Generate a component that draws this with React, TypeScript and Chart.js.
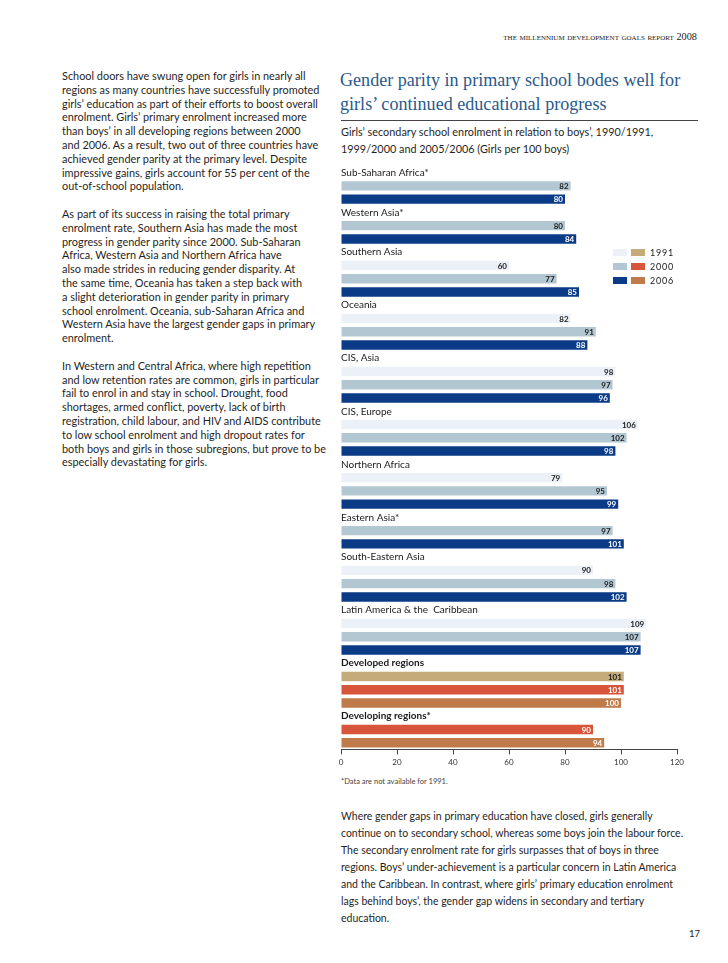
import React, { useEffect, useRef } from "react";
import { Chart, registerables } from "chart.js";

Chart.register(...registerables);

// ---------- Chart data ----------
const regions = [
  "Sub-Saharan Africa*",
  "Western Asia*",
  "Southern Asia",
  "Oceania",
  "CIS, Asia",
  "CIS, Europe",
  "Northern Africa",
  "Eastern Asia*",
  "South-Eastern Asia",
  "Latin America & the  Caribbean",
  "Developed regions",
  "Developing regions*",
];
const values1991: (number | null)[] = [null, null, 60, 82, 98, 106, 79, null, 90, 109, 101, null];
const values2000: (number | null)[] = [82, 80, 77, 91, 97, 102, 95, 97, 98, 107, 101, 90];
const values2006: (number | null)[] = [80, 84, 85, 88, 96, 98, 99, 101, 102, 107, 100, 94];
const seriesYears = ["1991", "2000", "2006"];
const summaryGroups = ["Developed regions", "Developing regions*"];
const xTicks = [0, 20, 40, 60, 80, 100, 120];

const regionColors = ["#ebf1f7", "#b3c7d3", "#0b3b86"];
const summaryColors = ["#c4ab79", "#d8553b", "#c07b4b"];
const regionTextColors = ["#1c1c1c", "#1c1c1c", "#ffffff"];
const summaryTextColors = ["#1c1c1c", "#ffffff", "#ffffff"];

// ---------- Text ----------
const leftLines = [
  "School doors have swung open for girls in nearly all",
  "regions as many countries have successfully promoted",
  "girls\u2019 education as part of their efforts to boost overall",
  "enrolment. Girls\u2019 primary enrolment increased more",
  "than boys\u2019 in all developing regions between 2000",
  "and 2006. As a result, two out of three countries have",
  "achieved gender parity at the primary level. Despite",
  "impressive gains, girls account for 55 per cent of the",
  "out-of-school population.",
  "",
  "As part of its success in raising the total primary",
  "enrolment rate, Southern Asia has made the most",
  "progress in gender parity since 2000. Sub-Saharan",
  "Africa, Western Asia and Northern Africa have",
  "also made strides in reducing gender disparity. At",
  "the same time, Oceania has taken a step back with",
  "a slight deterioration in gender parity in primary",
  "school enrolment. Oceania, sub-Saharan Africa and",
  "Western Asia have the largest gender gaps in primary",
  "enrolment.",
  "",
  "In Western and Central Africa, where high repetition",
  "and low retention rates are common, girls in particular",
  "fail to enrol in and stay in school. Drought, food",
  "shortages, armed conflict, poverty, lack of birth",
  "registration, child labour, and HIV and AIDS contribute",
  "to low school enrolment and high dropout rates for",
  "both boys and girls in those subregions, but prove to be",
  "especially devastating for girls.",
];
const bottomLines = [
  "Where gender gaps in primary education have closed, girls generally",
  "continue on to secondary school, whereas some boys join the labour force.",
  "The secondary enrolment rate for girls surpasses that of boys in three",
  "regions. Boys\u2019 under-achievement is a particular concern in Latin America",
  "and the Caribbean. In contrast, where girls\u2019 primary education enrolment",
  "lags behind boys\u2019, the gender gap widens in secondary and tertiary",
  "education.",
];
const titleLines = [
  "Gender parity in primary school bodes well for",
  "girls\u2019 continued educational progress",
];
const subtitleLines = [
  "Girls\u2019 secondary school enrolment in relation to boys\u2019, 1990/1991,",
  "1999/2000 and 2005/2006 (Girls per 100 boys)",
];

type Row =
  | { kind: "label"; region: number }
  | { kind: "bar"; region: number; series: number; value: number };

function buildRows(): Row[] {
  const rows: Row[] = [];
  const all = [values1991, values2000, values2006];
  regions.forEach((_, i) => {
    rows.push({ kind: "label", region: i });
    all.forEach((arr, s) => {
      const v = arr[i];
      if (v != null) rows.push({ kind: "bar", region: i, series: s, value: v });
    });
  });
  return rows;
}

const isSummary = (region: number) => summaryGroups.includes(regions[region]);

const SANS = "Lato, 'Open Sans', sans-serif";
const SERIF = "'Liberation Serif', 'DejaVu Serif', serif";

function BarChart() {
  const ref = useRef<HTMLCanvasElement | null>(null);
  useEffect(() => {
    if (!ref.current) return;
    const rows = buildRows();
    const datasets = seriesYears.map((year, s) => ({
      label: year,
      data: rows.map((r) => (r.kind === "bar" && r.series === s ? r.value : null)),
      backgroundColor: rows.map((r) => (isSummary(r.region) ? summaryColors[s] : regionColors[s])),
      borderWidth: 0,
    }));

    const labelPlugin = {
      id: "groupLabels",
      afterDatasetsDraw(chart: any) {
        const ctx = chart.ctx as CanvasRenderingContext2D;
        const yScale = chart.scales.y;
        const area = chart.chartArea;
        ctx.save();
        ctx.textBaseline = "middle";
        rows.forEach((r, i) => {
          if (r.kind !== "label") return;
          const y = yScale.getPixelForValue(i);
          ctx.font = (isSummary(r.region) ? "bold " : "") + "10px " + SANS;
          ctx.fillStyle = "#1a1a1a";
          ctx.textAlign = "left";
          ctx.fillText(regions[r.region], area.left, y);
        });
        chart.data.datasets.forEach((ds: any, s: number) => {
          const meta = chart.getDatasetMeta(s);
          meta.data.forEach((el: any, i: number) => {
            const v = ds.data[i];
            if (v == null) return;
            const r = rows[i];
            const { x, y } = el.getProps(["x", "y"], true);
            ctx.font = "bold 8px " + SANS;
            ctx.textAlign = "right";
            ctx.fillStyle = isSummary(r.region) ? summaryTextColors[s] : regionTextColors[s];
            ctx.fillText(String(v), x - 2, y + 0.5);
          });
        });
        ctx.restore();
      },
    };

    const chart = new Chart(ref.current, {
      type: "bar",
      data: { labels: rows.map((_, i) => String(i)), datasets },
      options: {
        indexAxis: "y",
        animation: false,
        responsive: false,
        maintainAspectRatio: false,
        layout: { padding: { left: 11, right: 23, top: 6, bottom: 2 } },
        plugins: { legend: { display: false }, tooltip: { enabled: false } },
        datasets: { bar: { grouped: false, categoryPercentage: 1, barPercentage: 0.71 } },
        scales: {
          y: { display: false },
          x: {
            min: 0,
            max: 120,
            afterBuildTicks: (axis: any) => {
              axis.ticks = xTicks.map((v) => ({ value: v }));
            },
            ticks: { color: "#333", font: { size: 8, family: SANS }, padding: 3, maxRotation: 0 },
            grid: { drawOnChartArea: false, drawTicks: true, tickLength: 5, color: "#444" },
            border: { display: true, color: "#444", width: 1 },
          },
        },
      } as any,
      plugins: [labelPlugin],
    });
    return () => chart.destroy();
  }, []);
  return (
    <canvas
      ref={ref}
      width={370}
      height={612}
      style={{ position: "absolute", left: 330, top: 160, width: 370, height: 612 }}
    />
  );
}

function Lines({ lines, left, top, lh, style }: { lines: string[]; left: number; top: number; lh: number; style: React.CSSProperties }) {
  return (
    <div style={{ position: "absolute", left, top, lineHeight: lh + "px", ...style }}>
      {lines.map((l, i) => (
        <div key={i} style={{ whiteSpace: "nowrap", height: lh }}>
          {l || "\u00a0"}
        </div>
      ))}
    </div>
  );
}

export default function App() {
  return (
    <div
      style={{
        position: "absolute",
        left: 0,
        top: 0,
        width: 728,
        height: 963,
        background: "#ffffff",
        overflow: "hidden",
        color: "#1f1f1f",
      }}
    >
      <div
        style={{
          position: "absolute",
          right: 31,
          top: 31,
          fontFamily: SERIF,
          fontSize: 10.3,
          fontVariant: "small-caps",
          color: "#222",
          whiteSpace: "nowrap",
        }}
      >
        the millennium development goals report 2008
      </div>

      <Lines lines={leftLines} left={62} top={69} lh={13.8} style={{ fontFamily: SANS, fontSize: 10.9, color: "#1f1f1f" }} />

      <Lines lines={titleLines} left={340} top={68} lh={24} style={{ fontFamily: SERIF, fontSize: 18.1, color: "#2a5a8c" }} />
      <div style={{ position: "absolute", left: 341, top: 120, width: 357, height: 1, background: "#444" }} />
      <Lines lines={subtitleLines} left={341} top={122.5} lh={17} style={{ fontFamily: SANS, fontSize: 10.85, color: "#1f1f1f" }} />

      <BarChart />

      <div style={{ position: "absolute", left: 613, top: 245 }}>
        {seriesYears.map((y, s) => (
          <div key={y} style={{ display: "flex", alignItems: "center", height: 14 }}>
            <div style={{ width: 14, height: 7, background: regionColors[s] }} />
            <div style={{ width: 14, height: 7, background: summaryColors[s], marginLeft: 4 }} />
            <div style={{ marginLeft: 5, fontFamily: SANS, fontSize: 9, letterSpacing: 0.8, color: "#222" }}>{y}</div>
          </div>
        ))}
      </div>

      <div style={{ position: "absolute", left: 341, top: 777, fontFamily: SANS, fontSize: 7.5, color: "#444", whiteSpace: "nowrap" }}>
        *Data are not available for 1991.
      </div>

      <Lines lines={bottomLines} left={341} top={807.5} lh={17} style={{ fontFamily: SANS, fontSize: 10.5, color: "#1f1f1f" }} />

      <div style={{ position: "absolute", left: 689, top: 928, fontFamily: SANS, fontSize: 9.5, color: "#222" }}>17</div>
    </div>
  );
}
